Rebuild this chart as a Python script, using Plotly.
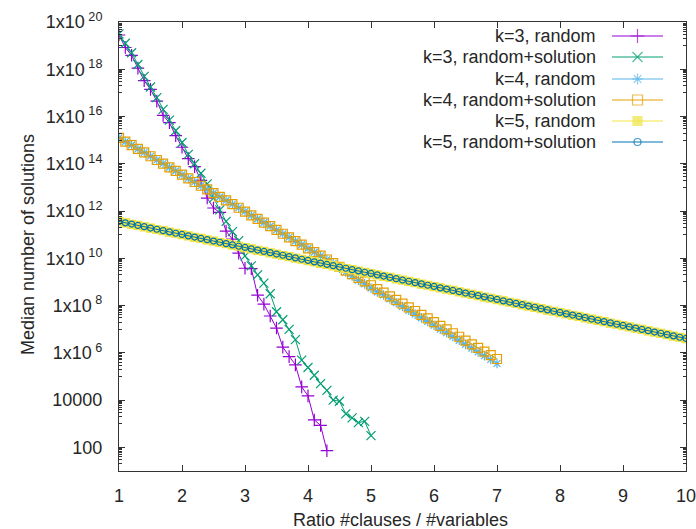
import plotly.graph_objects as go

# ---------------- data (log10 of median number of solutions) ----------------
x_k3_random = [round(1.0 + 0.1 * i, 1) for i in range(34)]      # 1.0 .. 4.3
log_k3_random = [19.45, 18.92, 18.59, 18.05, 17.52, 17.15, 16.65, 16.05, 15.74, 15.19,
                 14.70, 14.22, 13.88, 13.30, 12.55, 12.13, 11.94, 11.15, 10.81, 10.22,
                 9.58, 9.56, 8.44, 8.06, 7.56, 7.05, 6.24, 5.84, 5.49, 4.56,
                 4.18, 3.16, 2.93, 1.86]

x_k3_rs = [round(1.0 + 0.1 * i, 1) for i in range(41)]          # 1.0 .. 5.0
log_k3_rs = [19.50, 19.10, 18.70, 18.20, 17.70, 17.25, 16.80, 16.30, 15.85, 15.40,
             14.90, 14.40, 14.00, 13.60, 13.15, 12.55, 12.05, 11.56, 11.13, 10.75,
             10.10, 9.68, 9.30, 8.95, 8.50, 7.74, 7.40, 6.99, 6.56, 5.69,
             5.38, 5.05, 4.70, 4.41, 4.00, 3.95, 3.42, 3.25, 3.05, 3.10, 2.50]

x_k4 = [round(1.0 + 0.1 * i, 1) for i in range(61)]             # 1.0 .. 7.0
log_k4_random = [15.10, 14.94, 14.79, 14.63, 14.48, 14.32, 14.16, 14.01, 13.85, 13.70,
                 13.54, 13.38, 13.23, 13.07, 12.92, 12.76, 12.60, 12.45, 12.29, 12.14,
                 11.98, 11.82, 11.67, 11.51, 11.36, 11.20, 11.04, 10.89, 10.73, 10.58,
                 10.42, 10.26, 10.11, 9.95, 9.78, 9.58, 9.42, 9.25, 9.07, 8.92,
                 8.74, 8.58, 8.45, 8.28, 8.12, 7.96, 7.80, 7.64, 7.48, 7.33,
                 7.17, 7.00, 6.85, 6.69, 6.53, 6.36, 6.20, 6.04, 5.88, 5.72, 5.55]
log_k4_rs = [15.10, 14.94, 14.79, 14.63, 14.48, 14.32, 14.16, 14.01, 13.85, 13.70,
             13.54, 13.38, 13.23, 13.07, 12.92, 12.76, 12.60, 12.45, 12.29, 12.14,
             11.98, 11.82, 11.67, 11.51, 11.36, 11.20, 11.04, 10.89, 10.73, 10.58,
             10.42, 10.26, 10.11, 9.95, 9.80, 9.64, 9.48, 9.33, 9.17, 9.02,
             8.86, 8.70, 8.55, 8.39, 8.24, 8.08, 7.92, 7.77, 7.61, 7.46,
             7.30, 7.14, 6.99, 6.83, 6.68, 6.52, 6.36, 6.21, 6.05, 5.90, 5.74]

x_k5 = [round(1.0 + 0.1 * i, 1) for i in range(91)]             # 1.0 .. 10.0
log_k5_random = [11.55, 11.50, 11.44, 11.39, 11.33, 11.28, 11.22, 11.17, 11.11, 11.06,
                 11.00, 10.95, 10.89, 10.84, 10.78, 10.73, 10.67, 10.62, 10.56, 10.51,
                 10.45, 10.40, 10.34, 10.29, 10.23, 10.18, 10.12, 10.07, 10.01, 9.96,
                 9.90, 9.85, 9.79, 9.74, 9.68, 9.63, 9.57, 9.52, 9.46, 9.41,
                 9.35, 9.30, 9.24, 9.19, 9.13, 9.08, 9.02, 8.97, 8.91, 8.86,
                 8.80, 8.75, 8.69, 8.64, 8.58, 8.53, 8.47, 8.42, 8.36, 8.31,
                 8.25, 8.20, 8.14, 8.09, 8.03, 7.98, 7.92, 7.87, 7.81, 7.76,
                 7.70, 7.65, 7.59, 7.54, 7.48, 7.43, 7.37, 7.32, 7.26, 7.21,
                 7.15, 7.10, 7.04, 6.99, 6.93, 6.88, 6.82, 6.77, 6.71, 6.66, 6.60]
log_k5_rs = [11.56, 11.50, 11.45, 11.39, 11.34, 11.28, 11.23, 11.17, 11.12, 11.06,
             11.01, 10.95, 10.90, 10.84, 10.79, 10.73, 10.68, 10.62, 10.57, 10.51,
             10.46, 10.40, 10.35, 10.29, 10.24, 10.18, 10.13, 10.07, 10.02, 9.96,
             9.91, 9.85, 9.80, 9.74, 9.69, 9.63, 9.58, 9.52, 9.47, 9.41,
             9.36, 9.30, 9.25, 9.19, 9.14, 9.08, 9.03, 8.97, 8.92, 8.86,
             8.81, 8.75, 8.70, 8.64, 8.59, 8.53, 8.48, 8.42, 8.37, 8.31,
             8.26, 8.20, 8.15, 8.09, 8.04, 7.98, 7.93, 7.87, 7.82, 7.76,
             7.71, 7.65, 7.60, 7.54, 7.49, 7.43, 7.38, 7.32, 7.27, 7.21,
             7.16, 7.10, 7.05, 6.99, 6.94, 6.88, 6.83, 6.77, 6.72, 6.66, 6.61]

series_names = ["k=3, random", "k=3, random+solution", "k=4, random",
                "k=4, random+solution", "k=5, random", "k=5, random+solution"]

x_tick_vals = [1, 2, 3, 4, 5, 6, 7, 8, 9, 10]
y_tick_exps = [2, 4, 6, 8, 10, 12, 14, 16, 18, 20]
y_tick_text = ["100", "10000", "1x10<sup> 6</sup>", "1x10<sup> 8</sup>", "1x10<sup> 10</sup>",
               "1x10<sup> 12</sup>", "1x10<sup> 14</sup>", "1x10<sup> 16</sup>",
               "1x10<sup> 18</sup>", "1x10<sup> 20</sup>"]

# ---------------- styles ----------------
colors = ["#9400d3", "#009e73", "#56b4e9", "#e69f00", "#f0e442", "#0072b2"]
symbols = ["cross-thin-open", "x-thin-open", "asterisk-open", "square-open", "square", "circle-open"]
sizes = [9, 9, 8, 9, 8, 6]

xs = [x_k3_random, x_k3_rs, x_k4, x_k4, x_k5, x_k5]
logs = [log_k3_random, log_k3_rs, log_k4_random, log_k4_rs, log_k5_random, log_k5_rs]

FONT = "Liberation Sans, Arial, sans-serif"
TXT = "#262626"
W, H = 696, 529

fig = go.Figure()
for i in range(6):
    fig.add_trace(go.Scatter(
        x=xs[i], y=[10.0 ** v for v in logs[i]], mode="lines+markers",
        name=series_names[i], showlegend=False,
        line=dict(color=colors[i], width=1),
        marker=dict(symbol=symbols[i], size=sizes[i], color=colors[i],
                    line=dict(color=colors[i], width=1.2)),
    ))

# ---------------- gnuplot-style legend (text left of sample) ----------------
L_LEFT, L_RIGHT = 612, 663
PX_L, PX_R, PX_T, PX_B = 119, 686, 22, 471
row_px = [36, 57, 79, 100, 121, 142]
def ax_x(px):
    return (px - PX_L) / (PX_R - PX_L)
def ax_y(py):
    return (PX_B - py) / (PX_B - PX_T)

for i in range(6):
    yy = ax_y(row_px[i])
    fig.add_trace(go.Scatter(
        x=[ax_x(L_LEFT), ax_x((L_LEFT + L_RIGHT) / 2), ax_x(L_RIGHT)], y=[yy, yy, yy],
        xaxis="x2", yaxis="y2", mode="lines+markers", showlegend=False, hoverinfo="skip",
        line=dict(color=colors[i], width=1),
        marker=dict(symbol=symbols[i], size=[0, sizes[i] + 1, 0], color=colors[i],
                    line=dict(color=colors[i], width=1.2)),
    ))
    fig.add_annotation(x=ax_x(598), y=yy, xref="paper", yref="paper", text=series_names[i],
                       showarrow=False, xanchor="right", yanchor="middle",
                       font=dict(family=FONT, size=18, color=TXT))

# axis titles (paper coordinates)
fig.add_annotation(x=ax_x(400), y=ax_y(520), xref="paper", yref="paper",
                   text="Ratio #clauses / #variables", showarrow=False,
                   xanchor="center", yanchor="middle", font=dict(family=FONT, size=18, color=TXT))
fig.add_annotation(x=ax_x(28), y=ax_y(245), xref="paper", yref="paper",
                   text="Median number of solutions", showarrow=False, textangle=-90,
                   xanchor="center", yanchor="middle", font=dict(family=FONT, size=18, color=TXT))

minor_vals = []
for e in y_tick_exps:
    for k in range(1, 10):
        minor_vals.append(k * 10.0 ** (e - 1))

fig.update_layout(
    width=W, height=H,
    margin=dict(l=PX_L, r=W - PX_R, t=PX_T, b=H - PX_B, autoexpand=False),
    paper_bgcolor="white", plot_bgcolor="white",
    font=dict(family=FONT, size=18, color=TXT),
    showlegend=False,
    xaxis=dict(range=[1, 10], tickmode="array", tickvals=x_tick_vals,
               ticks="inside", ticklen=6, tickcolor="#333", tickwidth=1,
               showline=True, linecolor="#333", linewidth=1, mirror="ticks",
               showgrid=False, zeroline=False, ticklabelstandoff=8,
               ticklabeloverflow="allow",
               tickfont=dict(family=FONT, size=18, color=TXT)),
    yaxis=dict(type="log", range=[1, 20], tickmode="array",
               tickvals=[10.0 ** e for e in y_tick_exps], ticktext=y_tick_text,
               ticks="inside", ticklen=6, tickcolor="#333", tickwidth=1,
               showline=True, linecolor="#333", linewidth=1, mirror="ticks",
               showgrid=False, zeroline=False, ticklabelstandoff=12,
               ticklabeloverflow="allow",
               tickfont=dict(family=FONT, size=18, color=TXT),
               minor=dict(tickmode="array", tickvals=minor_vals, ticks="inside",
                          ticklen=3, tickcolor="#333", showgrid=False)),
    xaxis2=dict(range=[0, 1], overlaying="x", visible=False, fixedrange=True),
    yaxis2=dict(range=[0, 1], overlaying="y", visible=False, fixedrange=True),
)

fig.write_html("out.html", config={"displayModeBar": False},
               post_script="document.body.style.margin='0';document.body.style.overflow='hidden';")
